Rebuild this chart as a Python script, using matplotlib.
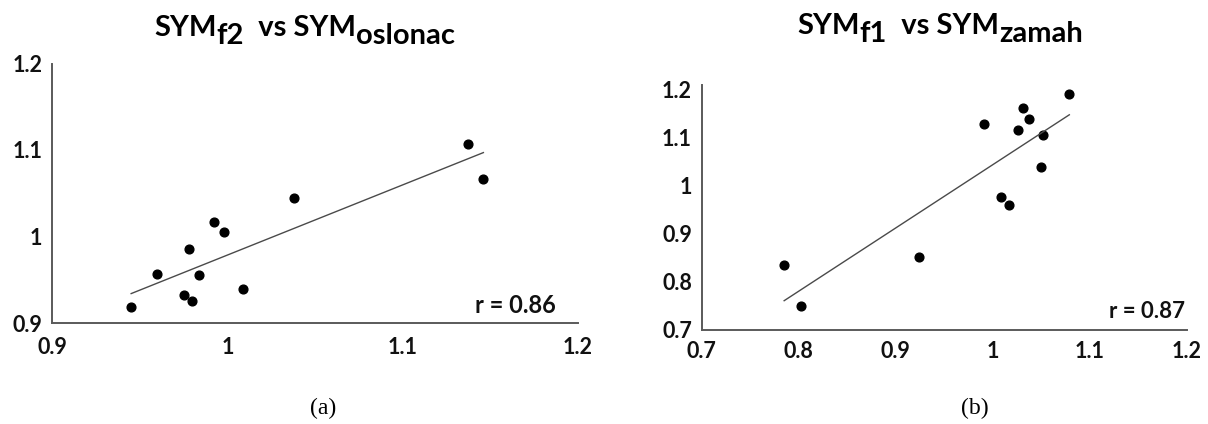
import matplotlib.pyplot as plt

# panel (a): SYM f2 vs SYM oslonac
xa = [0.945, 0.960, 0.975, 0.980, 0.978, 0.984, 0.992, 0.998, 1.009, 1.038, 1.137, 1.146]
ya = [0.919, 0.957, 0.932, 0.925, 0.985, 0.955, 1.017, 1.005, 0.939, 1.044, 1.107, 1.067]
trend_a_x = [0.945, 1.146]
trend_a_y = [0.934, 1.097]
ticks_a = [0.9, 1.0, 1.1, 1.2]
labels_a = ["0.9", "1", "1.1", "1.2"]

# panel (b): SYM f1 vs SYM zamah
xb = [0.785, 0.802, 0.924, 0.991, 1.009, 1.017, 1.026, 1.031, 1.037, 1.052, 1.050, 1.079]
yb = [0.836, 0.749, 0.853, 1.129, 0.977, 0.961, 1.116, 1.162, 1.140, 1.106, 1.039, 1.191]
trend_b_x = [0.785, 1.079]
trend_b_y = [0.761, 1.148]
ticks_b = [0.7, 0.8, 0.9, 1.0, 1.1, 1.2]
labels_b = ["0.7", "0.8", "0.9", "1", "1.1", "1.2"]

FONT = "Lato"
axis_col = "#5a5a5a"

fig = plt.figure(figsize=(12.08, 4.24), dpi=100)


def setup(ax, xlim, ylim, xt, xl, yt, yl, xpad, ypad):
    ax.set_xlim(*xlim)
    ax.set_ylim(*ylim)
    for s in ["top", "right"]:
        ax.spines[s].set_visible(False)
    for s in ["left", "bottom"]:
        ax.spines[s].set_color(axis_col)
        ax.spines[s].set_linewidth(1.4)
    ax.set_xticks(xt)
    ax.set_xticklabels(xl)
    ax.set_yticks(yt)
    ax.set_yticklabels(yl)
    ax.tick_params(length=0, labelsize=15.5)
    ax.tick_params(axis="x", pad=xpad)
    ax.tick_params(axis="y", pad=ypad)
    for t in ax.get_xticklabels() + ax.get_yticklabels():
        t.set_fontweight("bold")
        t.set_fontfamily(FONT)
        t.set_color("#111111")


def title(x, y, parts, size=21):
    # parts: (text, subscript?) pieces chained one after another
    last = None
    last_off = 0
    for txt, sub in parts:
        off = -6 if sub else 0
        if last is None:
            last = fig.text(x, y, txt, fontsize=size, fontweight="bold",
                            family=FONT, va="baseline", ha="left")
        else:
            last = fig.add_artist(plt.Annotation(
                txt, xy=(1, 0), xycoords=last, xytext=(0, off - last_off),
                textcoords="offset points", fontsize=size, fontweight="bold",
                family=FONT, va="bottom", ha="left"))
        last_off = off


ax1 = fig.add_axes([52.3 / 1208, 1 - 323 / 424, (578 - 52.3) / 1208, (323 - 63.5) / 424])
ax1.plot(xa, ya, "o", color="black", markersize=6.3)
ax1.plot(trend_a_x, trend_a_y, color="#4a4a4a", linewidth=1.0)
setup(ax1, (0.9, 1.2), (0.9, 1.2), ticks_a, labels_a, ticks_a, labels_a, 10, 7)
ax1.text(1.164, 0.92, "r = 0.86", fontsize=17, fontweight="bold", family=FONT,
         ha="center", va="center", color="#111111")

ax2 = fig.add_axes([701.7 / 1208, 1 - 330 / 424, (1186.7 - 701.7) / 1208, (330 - 85) / 424])
ax2.plot(xb, yb, "o", color="black", markersize=6.3)
ax2.plot(trend_b_x, trend_b_y, color="#4a4a4a", linewidth=1.0)
setup(ax2, (0.7, 1.2), (0.7, 1.21), ticks_b, labels_b, ticks_b, labels_b, 8, 7)
ax2.text(1.159, 0.738, "r = 0.87", fontsize=16, fontweight="bold", family=FONT,
         ha="center", va="center", color="#111111")

title(154 / 1208, 1 - 36 / 424, [("SYM", False), ("f2", True), ("  vs SYM", False), ("oslonac", True)])
title(797 / 1208, 1 - 34 / 424, [("SYM", False), ("f1", True), ("  vs SYM", False), ("zamah", True)])

fig.text(323 / 1208, 1 - 408 / 424, "(a)", fontsize=17, family="Liberation Serif",
         ha="center", va="center")
fig.text(975 / 1208, 1 - 408 / 424, "(b)", fontsize=17, family="Liberation Serif",
         ha="center", va="center")

fig.savefig("out.png", dpi=100, facecolor="white")
